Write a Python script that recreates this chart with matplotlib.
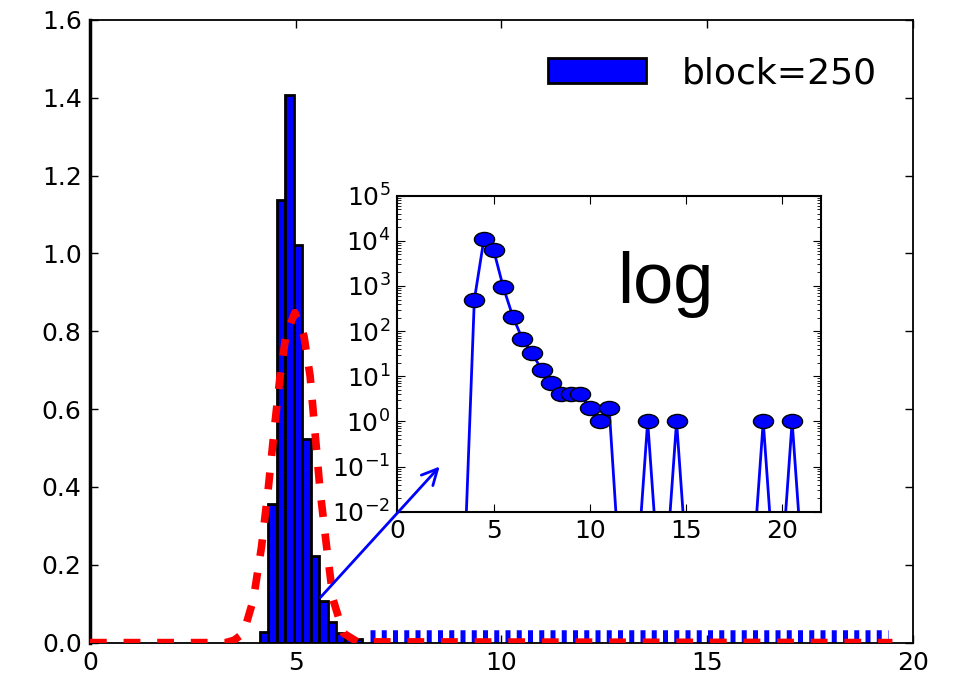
import numpy as np
import matplotlib
matplotlib.use("Agg")
import matplotlib.pyplot as plt
from matplotlib.path import Path
from matplotlib.ticker import LogLocator

# main histogram (density), bins of equal width
bin_left0 = 4.13
bin_width = 0.206
bar_heights = [0.028, 0.357, 1.138, 1.407, 1.023, 0.524, 0.223, 0.106,
               0.053, 0.024, 0.013, 0.008]

# fitted curve, sampled
fit_x = [0.0, 3.3, 3.5, 3.73, 3.97, 4.17, 4.33, 4.47, 4.62, 4.76, 4.98,
         5.20, 5.35, 5.47, 5.59, 5.75, 5.91, 6.16, 6.5, 19.5]
fit_y = [0.0, 0.0, 0.006, 0.024, 0.11, 0.247, 0.393, 0.539, 0.685, 0.788,
         0.848, 0.788, 0.685, 0.539, 0.393, 0.247, 0.11, 0.024, 0.002, 0.0]

# flat tail marker along the bottom
tail_x = [6.8, 19.4]
tail_y = [0.016, 0.016]

# inset: counts per 0.5 bin (log scale), 0 = empty bin
inset_x = [3.5, 4.0, 4.5, 5.0, 5.5, 6.0, 6.5, 7.0, 7.5, 8.0, 8.5, 9.0,
           9.5, 10.0, 10.5, 11.0, 11.5, 12.0, 12.5, 13.0, 13.5, 14.0,
           14.5, 15.0, 15.5, 16.0, 16.5, 17.0, 17.5, 18.0, 18.5, 19.0,
           19.5, 20.0, 20.5, 21.0]
inset_counts = [0, 490, 11000, 6300, 950, 210, 66, 32, 14, 7, 4, 4,
                4, 2, 1, 2, 0, 0, 0, 1, 0, 0,
                1, 0, 0, 0, 0, 0, 0, 0, 0, 1,
                0, 0, 1, 0]

plt.rcParams['font.family'] = ['DejaVu Sans']
plt.rcParams['font.size'] = 18

fig = plt.figure(figsize=(9.55, 6.8), dpi=100)
ax = fig.add_axes([0.0942, 0.055, 0.8618, 0.9156])

lefts = [bin_left0 + i * bin_width for i in range(len(bar_heights))]
ax.bar(lefts, bar_heights, width=bin_width, align='edge', color='blue',
       edgecolor='black', linewidth=2, label='block=250', zorder=2)
ax.plot(tail_x, tail_y, color='blue', lw=9, linestyle=(0, (0.4, 0.5)),
        solid_capstyle='butt', zorder=2)
ax.plot(fit_x, fit_y, color='red', lw=5.5, linestyle=(0, (2.2, 2.2)),
        zorder=3)

ax.set_xlim(0, 20)
ax.set_ylim(0, 1.6)
ax.set_xticks([0, 5, 10, 15, 20])
ax.set_yticks(np.arange(0, 1.61, 0.2))
ax.yaxis.set_major_formatter(plt.FormatStrFormatter('%.1f'))
ax.tick_params(direction='in', top=True, right=True, length=6, width=1,
               labelsize=18, pad=6)
for s in ax.spines.values():
    s.set_linewidth(1.3)
ax.spines['left'].set_linewidth(2.5)

ax.legend(loc='upper right', frameon=False, fontsize=26, handlelength=2.7,
          handleheight=0.72, handletextpad=1.0, borderaxespad=0.6)

# inset on log scale
axin = fig.add_axes([0.416, 0.2475, 0.4437, 0.4647])
circ = Path.unit_circle()
ell = Path(circ.vertices * [1.0, 0.7], circ.codes)
shown = np.where(np.array(inset_counts) > 0, inset_counts, 1e-3)
axin.plot(inset_x, shown, color='blue', lw=2, marker=ell, markersize=14.5,
          markerfacecolor='blue', markeredgecolor='black',
          markeredgewidth=1)
axin.set_yscale('log')
axin.set_ylim(1e-2, 1e5)
axin.yaxis.set_major_locator(LogLocator(base=10, numticks=20))
axin.yaxis.set_minor_locator(LogLocator(base=10, subs=np.arange(2, 10),
                                        numticks=20))
axin.set_xlim(0, 22)
axin.set_xticks([0, 5, 10, 15, 20])
axin.tick_params(which='both', direction='in', top=True, right=True,
                 labelsize=18)
axin.tick_params(which='major', length=6, pad=5)
axin.tick_params(which='minor', length=3)
for s in axin.spines.values():
    s.set_linewidth(1.5)
axin.text(0.52, 0.72, 'log', transform=axin.transAxes, fontsize=52,
          family='Liberation Sans', va='center', ha='left')

axin.annotate('', xy=(2.2, 0.1), xycoords='data',
              xytext=(5.6, 0.116), textcoords=ax.transData,
              arrowprops=dict(arrowstyle='->', color='blue', lw=2,
                              mutation_scale=28, shrinkA=0, shrinkB=0))

fig.savefig('out.png', dpi=100)
